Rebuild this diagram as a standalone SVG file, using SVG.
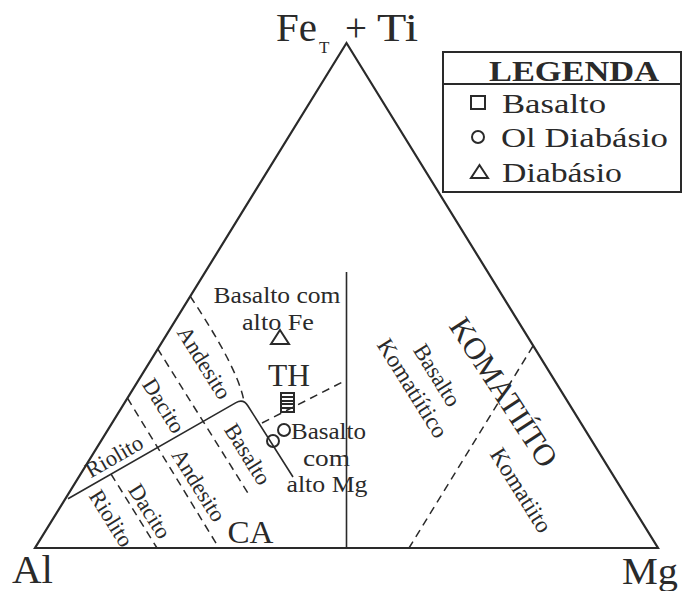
<svg xmlns="http://www.w3.org/2000/svg" width="686" height="591" viewBox="0 0 686 591">
<style>
.t{font-family:"Liberation Serif","Times New Roman",serif;fill:#2a2a2a}
.r{text-anchor:middle}
.edge{fill:none;stroke:#2a2a2a;stroke-width:2.2;stroke-linejoin:miter}
.solid{fill:none;stroke:#2a2a2a;stroke-width:1.6}
.dash{fill:none;stroke:#2a2a2a;stroke-width:1.5;stroke-dasharray:8 5.5}
.mk{fill:none;stroke:#2a2a2a;stroke-width:2}
</style>
<rect width="686" height="591" fill="#fff"/>
<g id="frame">
<polygon class="edge" points="35,548 658,548 346.5,43"/>
</g>
<g id="connectors">
<line class="solid" x1="346.5" y1="272" x2="346.5" y2="548"/>
<path class="solid" d="M68,498.7 L236,402.6 Q243.4,398.4 248,406 L293,477"/>
<path class="dash" d="M190,296 Q236,365 243.4,398.4"/>
<line class="dash" x1="157.5" y1="348.5" x2="248.5" y2="494"/>
<line class="dash" x1="127.4" y1="398" x2="219" y2="548"/>
<line class="dash" x1="111" y1="474" x2="157" y2="548"/>
<line class="dash" x1="262" y1="423" x2="346.5" y2="380"/>
<line class="dash" x1="533" y1="346" x2="409" y2="548"/>
</g>
<g id="axis-labels">
<text class="t" x="276" y="41" font-size="41" textLength="41" lengthAdjust="spacingAndGlyphs">Fe</text>
<text class="t" x="319" y="53" font-size="17">T</text>
<text class="t" x="345" y="41" font-size="39">+</text>
<text class="t" x="377" y="41" font-size="41" textLength="41" lengthAdjust="spacingAndGlyphs">Ti</text>
<text class="t" x="12" y="583" font-size="39" textLength="41" lengthAdjust="spacingAndGlyphs">Al</text>
<text class="t" x="622" y="584" font-size="38" textLength="56" lengthAdjust="spacingAndGlyphs">Mg</text>
</g>
<g id="legend">
<rect x="443" y="52" width="238" height="140" fill="none" stroke="#2a2a2a" stroke-width="2"/>
<line x1="443" y1="84" x2="681" y2="84" stroke="#2a2a2a" stroke-width="2"/>
<text class="t" x="489" y="81" font-size="29" font-weight="bold" textLength="170" lengthAdjust="spacingAndGlyphs">LEGENDA</text>
<rect class="mk" x="471" y="96" width="14" height="13"/>
<text class="t" x="502" y="113" font-size="28" textLength="104" lengthAdjust="spacingAndGlyphs">Basalto</text>
<circle class="mk" cx="478" cy="137" r="6"/>
<text class="t" x="501" y="146.5" font-size="28" textLength="167" lengthAdjust="spacingAndGlyphs">Ol Diabásio</text>
<polygon class="mk" points="479.5,165 471,178 488,178"/>
<text class="t" x="502" y="182" font-size="28" textLength="120" lengthAdjust="spacingAndGlyphs">Diabásio</text>
</g>
<g id="field-labels">
<text class="t" x="213.5" y="303" font-size="23" textLength="127" lengthAdjust="spacingAndGlyphs">Basalto com</text>
<text class="t" x="242" y="329.5" font-size="23" textLength="72" lengthAdjust="spacingAndGlyphs">alto Fe</text>
<text class="t" x="268" y="386" font-size="32" textLength="42" lengthAdjust="spacingAndGlyphs">TH</text>
<text class="t" x="291" y="438.5" font-size="23" textLength="75" lengthAdjust="spacingAndGlyphs">Basalto</text>
<text class="t" x="303" y="465.5" font-size="23" textLength="47" lengthAdjust="spacingAndGlyphs">com</text>
<text class="t" x="286.5" y="492" font-size="23" textLength="81" lengthAdjust="spacingAndGlyphs">alto Mg</text>
<text class="t" x="227.5" y="543" font-size="32" textLength="46" lengthAdjust="spacingAndGlyphs">CA</text>
<text class="t r" transform="translate(204.5,362.5) rotate(58)" dy="0.35em" font-size="22.5">Andesito</text>
<text class="t r" transform="translate(164,405.5) rotate(58)" dy="0.35em" font-size="22.5">Dacito</text>
<text class="t r" transform="translate(114,456) rotate(-30)" dy="0.35em" font-size="22.5">Riolito</text>
<text class="t r" transform="translate(248,454) rotate(58)" dy="0.35em" font-size="22.5">Basalto</text>
<text class="t r" transform="translate(199,485) rotate(58)" dy="0.35em" font-size="22.5">Andesito</text>
<text class="t r" transform="translate(150,511) rotate(58)" dy="0.35em" font-size="22.5">Dacito</text>
<text class="t r" transform="translate(111.5,518) rotate(58)" dy="0.35em" font-size="22.5">Riolito</text>
<text class="t r" transform="translate(504,392) rotate(57)" dy="0.35em" font-size="31">KOMATIÍTO</text>
<text class="t r" transform="translate(437.5,375) rotate(58)" dy="0.35em" font-size="23">Basalto</text>
<text class="t r" transform="translate(413,388) rotate(58)" dy="0.35em" font-size="23.5">Komatiítico</text>
<text class="t r" transform="translate(521.5,490) rotate(58)" dy="0.35em" font-size="23.5">Komatiito</text>
</g>
<g id="samples">
<polygon class="mk" points="280,330 271,344 289,344"/>
<rect class="mk" x="281" y="393" width="13" height="11"/>
<rect class="mk" x="281" y="397" width="13" height="11"/>
<rect class="mk" x="281" y="401" width="13" height="11"/>
<circle class="mk" cx="284" cy="430" r="6"/>
<circle class="mk" cx="273" cy="441" r="6"/>
</g>
</svg>
